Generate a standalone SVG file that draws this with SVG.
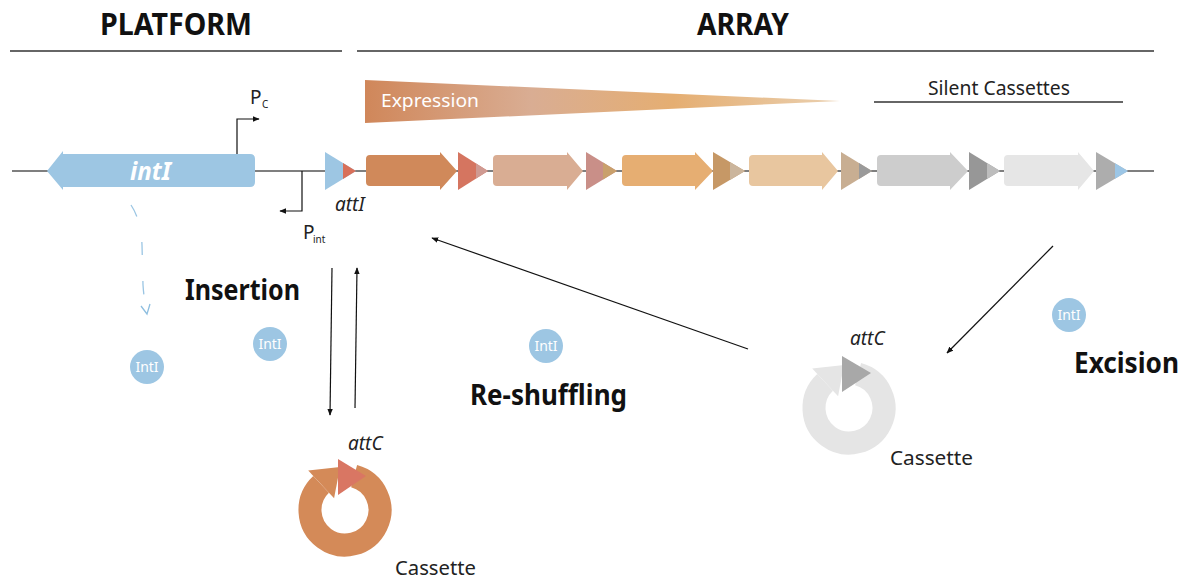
<svg xmlns="http://www.w3.org/2000/svg" width="1188" height="579" viewBox="0 0 1188 579">
<defs>
<style>
.hdr{font-family:"Noto Sans","Liberation Sans",sans-serif;font-weight:bold;font-size:31px;fill:#111}
.big{font-family:"Noto Sans","Liberation Sans",sans-serif;font-weight:bold;font-size:28px;fill:#111}
.lbl{font-family:"Noto Sans","Liberation Sans",sans-serif;font-size:19px;fill:#222}
.it{font-family:"Noto Sans","Liberation Sans",sans-serif;font-style:italic;font-size:19px;fill:#222}
.sub{font-family:"Noto Sans","Liberation Sans",sans-serif;font-size:10px;fill:#222}
.intc{fill:#9dc6e3}
.intt{font-family:"Noto Sans","Liberation Sans",sans-serif;font-size:14px;fill:#fff;text-anchor:middle}
.rule{stroke:#333;stroke-width:1.5}
.conn{stroke:#111;stroke-width:1.2;fill:none}
</style>
<linearGradient id="expg" x1="365" y1="0" x2="840" y2="0" gradientUnits="userSpaceOnUse">
<stop offset="0" stop-color="#d0875a"/>
<stop offset="0.35" stop-color="#d9ad93"/>
<stop offset="0.65" stop-color="#e5ae72"/>
<stop offset="1" stop-color="#ead0b0"/>
</linearGradient>
<marker id="ah" viewBox="0 0 10 10" refX="9" refY="5" markerWidth="7" markerHeight="7" orient="auto" markerUnits="userSpaceOnUse">
<path d="M0,1 L10,5 L0,9 Z" fill="#111"/>
</marker>
</defs>
<rect width="1188" height="579" fill="#fff"/>

<g id="headers">
<text class="hdr" x="100" y="35" textLength="152" lengthAdjust="spacingAndGlyphs">PLATFORM</text>
<text class="hdr" x="697" y="35" textLength="92" lengthAdjust="spacingAndGlyphs">ARRAY</text>
<line class="rule" x1="10" y1="51" x2="342" y2="51"/>
<line class="rule" x1="357" y1="51" x2="1154" y2="51"/>
</g>

<g id="backbone">
<line x1="12" y1="171" x2="1154" y2="171" stroke="#555" stroke-width="1.6"/>
</g>

<g id="expression">
<polygon points="365,80 840,101 365,123" fill="url(#expg)"/>
<text x="381" y="107" font-family="Noto Sans, Liberation Sans, sans-serif" font-size="18" fill="#fff" textLength="98" lengthAdjust="spacingAndGlyphs">Expression</text>
</g>

<g id="silent">
<text class="lbl" x="928" y="95" font-size="17" textLength="142" lengthAdjust="spacingAndGlyphs">Silent Cassettes</text>
<line x1="874" y1="102" x2="1123" y2="102" stroke="#333" stroke-width="1.4"/>
</g>

<g id="intI-gene">
<path d="M47,171 L63,151 V154 H250 Q255,154 255,159 V182 Q255,187 250,187 H63 V190 Z" fill="#9dc6e3"/>
<text x="130" y="180" font-family="Noto Sans, Liberation Sans, sans-serif" font-weight="bold" font-style="italic" font-size="25" fill="#fff" textLength="41" lengthAdjust="spacingAndGlyphs">intI</text>
</g>

<g id="Pc">
<path d="M237,154 V119 H259" stroke="#111" stroke-width="1.2" fill="none" marker-end="url(#ah)"/>
<text class="lbl" x="250" y="104" font-size="17">P</text>
<text class="sub" x="262" y="108">C</text>
</g>

<g id="Pint">
<path d="M302,171 V211 H280" stroke="#111" stroke-width="1.2" fill="none" marker-end="url(#ah)"/>
<text class="lbl" x="303" y="239" font-size="17">P</text>
<text class="sub" x="313" y="243">int</text>
</g>

<g id="attI">
<polygon points="325,152 325,190 356,171" fill="#9dc6e3"/>
<polygon points="343,163 343,179 356,171" fill="#d8705a"/>
<text class="it" x="335" y="211">attI</text>
</g>

<g id="cassette1">
<path d="M370,155 H440 V152 L457,171 L440,190 V186 H370 Q366,186 366,182 V159 Q366,155 370,155 Z" fill="#d0895a"/>
<polygon points="458,152 458,190 488,171" fill="#d57560"/>
<polygon points="476,163.4 476,178.6 488,171" fill="#cf9a92"/>
</g>
<g id="cassette2">
<path d="M497,155 H567 V152 L583,171 L567,190 V186 H497 Q493,186 493,182 V159 Q493,155 497,155 Z" fill="#d9ad93"/>
<polygon points="586,152 586,190 617,171" fill="#c98f88"/>
<polygon points="603,162.4 603,179.6 617,171" fill="#c9a06c"/>
</g>
<g id="cassette3">
<path d="M626,155 H695 V152 L713,171 L695,190 V186 H626 Q622,186 622,182 V159 Q622,155 626,155 Z" fill="#e6ae72"/>
<polygon points="713,152 713,190 745,171" fill="#c69866"/>
<polygon points="730,162.1 730,179.9 745,171" fill="#cbb59c"/>
</g>
<g id="cassette4">
<path d="M753,155 H822 V152 L838,171 L822,190 V186 H753 Q749,186 749,182 V159 Q749,155 753,155 Z" fill="#e8c69f"/>
<polygon points="841,152 841,190 872,171" fill="#c8ae92"/>
<polygon points="859,163 859,179 872,171" fill="#9a9a9a"/>
</g>
<g id="cassette5">
<path d="M881,155 H950 V152 L968,171 L950,190 V186 H881 Q877,186 877,182 V159 Q877,155 881,155 Z" fill="#cdcdcd"/>
<polygon points="969,152 969,190 1000,171" fill="#979797"/>
<polygon points="987,163 987,179 1000,171" fill="#bdbdbd"/>
</g>
<g id="cassette6">
<path d="M1008,155 H1078 V152 L1094,171 L1078,190 V186 H1008 Q1004,186 1004,182 V159 Q1004,155 1008,155 Z" fill="#e6e6e6"/>
<polygon points="1096,152 1096,190 1128,171" fill="#adadad"/>
<polygon points="1115,163.3 1115,178.7 1128,171" fill="#9cc6e6"/>
</g>

<g id="intI-1"><circle class="intc" cx="147" cy="367" r="17"/><text class="intt" x="147" y="372">IntI</text></g>
<g id="intI-2"><circle class="intc" cx="270" cy="344" r="17"/><text class="intt" x="270" y="349">IntI</text></g>
<g id="intI-3"><circle class="intc" cx="546" cy="346" r="17"/><text class="intt" x="546" y="351">IntI</text></g>
<g id="intI-4"><circle class="intc" cx="1069" cy="315" r="17"/><text class="intt" x="1069" y="320">IntI</text></g>

<g id="labels">
<text class="big" x="185" y="300" textLength="115" lengthAdjust="spacingAndGlyphs">Insertion</text>
<text class="big" x="470" y="405" textLength="157" lengthAdjust="spacingAndGlyphs">Re-shuffling</text>
<text class="big" x="1074" y="373" textLength="105" lengthAdjust="spacingAndGlyphs">Excision</text>
</g>

<g id="cassette-orange">
<path d="M354.1,476.2 A35,35 0 1,1 321.1,484.4" fill="none" stroke="#d48a58" stroke-width="23"/>
<polygon points="308.2,470.5 334.1,498.3 340,467" fill="#d48a58"/>
<polygon points="338,459 338,495 366,476" fill="#d97663"/>
<text class="it" x="348" y="450">attC</text>
<text class="lbl" x="395" y="575" textLength="81" lengthAdjust="spacingAndGlyphs">Cassette</text>
</g>

<g id="cassette-grey">
<path d="M858.1,374.2 A35,35 0 1,1 825.1,382.4" fill="none" stroke="#e5e5e5" stroke-width="23"/>
<polygon points="812.2,368.5 838.1,396.3 844,365" fill="#e5e5e5"/>
<polygon points="842,356 842,392 871,373" fill="#a8a8a8"/>
<text class="it" x="850" y="345">attC</text>
<text class="lbl" x="890" y="465" textLength="83" lengthAdjust="spacingAndGlyphs">Cassette</text>
</g>

<g id="connectors">
<line class="conn" x1="332" y1="268" x2="330" y2="415" marker-end="url(#ah)"/>
<line class="conn" x1="355" y1="408" x2="357" y2="268" marker-end="url(#ah)"/>
<line class="conn" x1="748" y1="349" x2="432" y2="238" marker-end="url(#ah)"/>
<line class="conn" x1="1053" y1="246" x2="947" y2="353" marker-end="url(#ah)"/>
<path d="M131,205 Q141,220 142,245 L143,285 Q144,300 147,313" fill="none" stroke="#8fbfe0" stroke-width="1.3" stroke-dasharray="13,26" opacity="0.9"/>
<path d="M141,306 L147,314 L150,304" fill="none" stroke="#8fbfe0" stroke-width="1.3"/>
</g>
</svg>
